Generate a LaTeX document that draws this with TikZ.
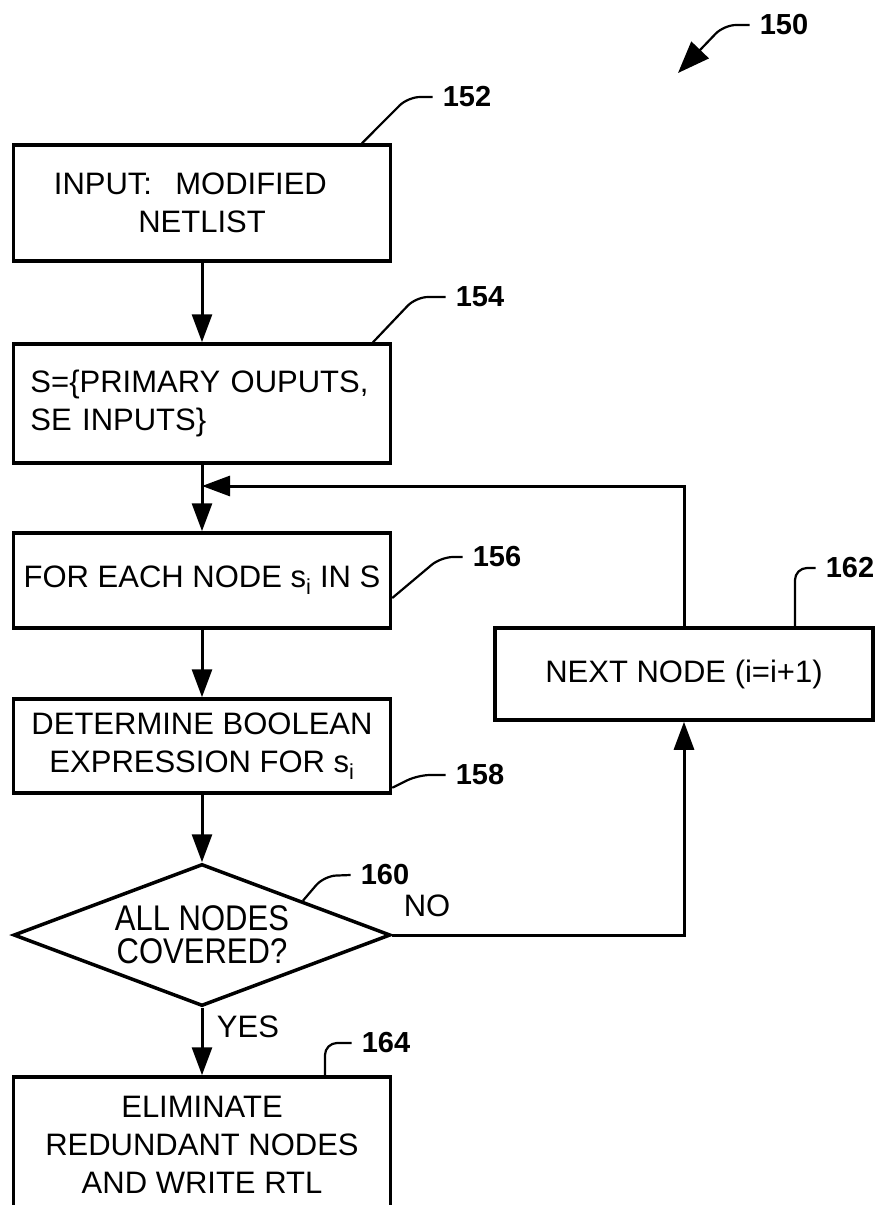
\documentclass[tikz,border=0pt]{standalone}
\usepackage{fontspec}
\setmainfont{Liberation Sans}
\usetikzlibrary{arrows.meta,shapes.geometric,calc}

\begin{document}
\begin{tikzpicture}[x=1pt,y=-1pt]
\tikzset{box/.style = {shape=rectangle,draw,line width=3.5pt,minimum width=377pt,inner sep=0pt,align=center,font=\fontsize{31}{38}\selectfont}}
\tikzset{decision/.style = {shape=diamond,draw,line width=3.5pt,aspect=2.65,minimum width=377pt,minimum height=142pt,inner sep=0pt,align=center,font=\fontsize{31}{33}\selectfont}}
\tikzset{flow/.style = {line width=3pt,-{Triangle[length=28pt,width=20pt]}}}
\tikzset{leader/.style = {line width=2.2pt,rounded corners=12pt}}
\tikzset{ref/.style = {font=\bfseries\fontsize{29}{29}\selectfont,inner xsep=10pt,inner ysep=0pt}}
\tikzset{answer/.style = {font=\fontsize{31}{31}\selectfont,inner sep=0pt}}
\clip (0,0) rectangle (885,1205);
% steps down the left column
\node[box,minimum height=116pt] (input) at (202,203) {INPUT:\hspace{0.75em}MODIFIED\hspace{0.75em}\mbox{}\\NETLIST};
\node[box,minimum height=119pt,align=left,text width=343pt] (sset) at (202,403.5) {S=\{PRIMARY OUPUTS,\\SE INPUTS\}};
\node[box,minimum height=95pt] (foreach) at (202,580.5) {FOR EACH NODE s\textsubscript{i} IN S};
\node[box,minimum height=94pt] (boolexpr) at (202,746) {DETERMINE BOOLEAN\\EXPRESSION FOR s\textsubscript{i}};
\node[decision] (covered) at (202,935) {\scalebox{1}[1.15]{ALL NODES}\\\scalebox{1}[1.15]{COVERED?}};
\node[box,minimum height=135pt] (elim) at (202,1144.5) {ELIMINATE\\REDUNDANT NODES\\AND WRITE RTL};
% loop-back step on the right
\node[box,minimum width=378pt,minimum height=92pt] (nextnode) at (684,674) {NEXT NODE (i=i+1)};
\coordinate (join) at (202,486);
% flow
\draw[flow] (input) -- (sset);
\draw[flow] (sset) -- (foreach);
\draw[flow] (foreach) -- (boolexpr);
\draw[flow] (boolexpr) -- (covered);
\draw[flow] (covered) -- (elim);
\draw[flow] (covered.east) -| (nextnode.south);
\draw[flow] (nextnode.north) |- (join);
\node[answer] (no) at (427,906) {NO};
\node[answer] (yes) at (248,1027) {YES};
% reference numerals
\node[ref] (r150) at (784,25) {150};
\node[ref] (r152) at (467,97) {152};
\node[ref] (r154) at (480,297) {154};
\node[ref] (r156) at (497,557) {156};
\node[ref] (r158) at (480,775) {158};
\node[ref] (r160) at (385,875) {160};
\node[ref] (r162) at (850,568) {162};
\node[ref] (r164) at (386,1043) {164};
\coordinate (tip150) at (678,73);
\draw[leader,-{Triangle[length=32pt,width=24pt]}] (r150.west) -- (724,25) -- (tip150);
\draw[leader] (r152.west) -- (408,97) -- ([xshift=160pt]input.north);
\draw[leader] (r154.west) -- (416,297) -- ([xshift=171pt]sset.north);
\draw[leader] (r156.west) -- (441,557) -- ([yshift=-17.5pt]foreach.east);
\draw[leader] (r158.west) -- (418,775) -- ([yshift=7pt]boolexpr.south east);
\draw[leader] (r160.west) -- (324,876) -- ($(covered.north)!0.53!(covered.east)$);
\draw[leader] (r162.west) -- (795,568) -- ([xshift=111pt]nextnode.north);
\draw[leader] (r164.west) -- (325,1043) -- ([xshift=123pt]elim.north);
\end{tikzpicture}
\end{document}
